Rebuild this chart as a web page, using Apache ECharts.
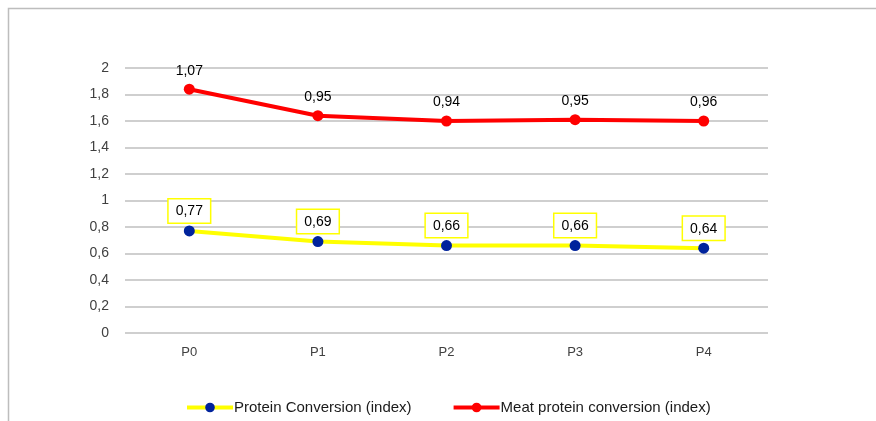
<!DOCTYPE html>
<html>
<head>
<meta charset="utf-8">
<script src="https://cdn.jsdelivr.net/npm/echarts@6/dist/echarts.min.js"></script>
<style>html,body{margin:0;padding:0;background:#fff}#c{width:876px;height:421px}</style>
</head>
<body>
<div id="c"></div>
<script>
const categories = ['P0', 'P1', 'P2', 'P3', 'P4'];
const proteinConversion = [0.77, 0.69, 0.66, 0.66, 0.64];
const meatProteinConversion = [1.07, 0.95, 0.94, 0.95, 0.96];
const seriesNames = ['Protein Conversion (index)', 'Meat protein conversion (index)'];

const fmt = v => Number(v).toFixed(2).replace('.', ',');
const chart = echarts.init(document.getElementById('c'), null, {renderer: 'canvas'});
chart.setOption({
  animation: false,
  backgroundColor: '#fff',
  graphic: [{
    type: 'rect', shape: {x: 8.5, y: 8.5, width: 1000, height: 600},
    style: {fill: 'none', stroke: '#bdbdbd', lineWidth: 1.5}, silent: true
  }],
  grid: {left: 125, right: 108, top: 68, bottom: 88},
  legend: {
    left: 180, top: 395, itemWidth: 46, itemHeight: 12, itemGap: 40,
    lineStyle: {width: 4},
    textStyle: {fontFamily: 'Liberation Sans', fontSize: 15, color: '#1a1a1a', padding: [0, 0, 0, -4]},
    data: seriesNames
  },
  xAxis: {
    type: 'category', data: categories, boundaryGap: true,
    axisLine: {show: false}, axisTick: {show: false},
    axisLabel: {margin: 13, fontFamily: 'Liberation Sans', fontSize: 13, color: '#404040'}
  },
  yAxis: {
    type: 'value', min: 0, max: 2, interval: 0.2,
    axisLine: {show: false}, axisTick: {show: false},
    axisLabel: {margin: 16, fontFamily: 'Liberation Sans', fontSize: 14, color: '#404040',
      formatter: v => (Math.round(v * 10) / 10).toString().replace('.', ',')},
    splitLine: {lineStyle: {color: '#bfbfbf', width: 1.5}}
  },
  series: [{
    name: seriesNames[0], type: 'line', stack: 'total', data: proteinConversion,
    symbol: 'circle', symbolSize: 11,
    lineStyle: {color: '#ffff00', width: 4},
    itemStyle: {color: '#00239c'},
    label: {show: true, position: 'top', distance: 3, formatter: p => fmt(p.value),
      fontFamily: 'Liberation Sans', fontSize: 14, color: '#000',
      borderColor: '#ffff00', borderWidth: 1.5, padding: [5, 7, 4, 7], backgroundColor: '#fff'}
  }, {
    name: seriesNames[1], type: 'line', stack: 'total', data: meatProteinConversion,
    symbol: 'circle', symbolSize: 11,
    lineStyle: {color: '#ff0000', width: 4},
    itemStyle: {color: '#ff0000'},
    label: {show: true, position: 'top', distance: 6, formatter: p => fmt(p.value),
      fontFamily: 'Liberation Sans', fontSize: 14, color: '#000'}
  }]
});
</script>
</body>
</html>
